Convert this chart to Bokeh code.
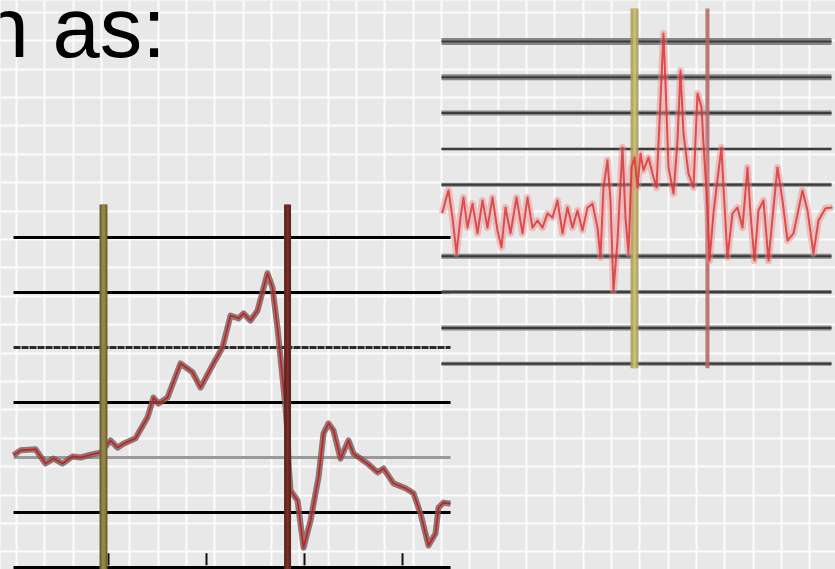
import numpy as np
from bokeh.plotting import figure
from bokeh.models import Range1d, FixedTicker, ColumnDataSource
from bokeh.core.properties import value
from bokeh.embed import file_html
from bokeh.resources import INLINE

# ---------------- data ----------------
caption = "n as:"

# Left trace: time (units) vs level
left_t = [-9.69, -8.98, -7.45, -6.43, -5.61, -4.69, -3.67, -2.86, -1.84, -0.82,
          0.20, 0.92, 1.53, 2.76, 3.98, 4.59, 5.10, 6.02, 7.35, 8.57,
          9.39, 10.71, 11.63, 12.45, 13.27, 13.78, 14.49, 15.20, 16.22, 16.73,
          17.24, 18.06, 18.27, 18.37, 18.57, 19.29, 19.90, 20.61, 21.43, 21.94,
          22.45, 22.96, 23.67, 24.49, 25.00, 26.43, 27.45, 28.06, 29.08, 30.31,
          31.12, 31.84, 32.65, 33.37, 33.67, 34.18, 34.90]
left_v = [0.04, 0.13, 0.15, -0.11, -0.02, -0.11, 0.02, 0.00, 0.05, 0.09,
          0.31, 0.18, 0.25, 0.35, 0.73, 1.09, 0.98, 1.09, 1.71, 1.55,
          1.27, 1.71, 2.00, 2.58, 2.53, 2.62, 2.49, 2.67, 3.35, 3.09,
          2.36, 0.91, 0.44, -0.11, -0.60, -0.78, -1.64, -1.15, -0.36, 0.44,
          0.62, 0.49, -0.02, 0.31, 0.07, -0.11, -0.27, -0.20, -0.47, -0.56,
          -0.65, -1.02, -1.60, -1.38, -0.91, -0.82, -0.84]
left_levels = [4, 3, 2, 1, 0, -1, -2]
left_markers = [-0.51, 18.27]
left_ticks = [0, 10, 20, 30]
left_span = [-9.69, 34.90]

# Right trace: sample vs level
right_u = [0.18, 1.03, 1.79, 2.82, 3.85, 4.87, 5.64, 6.67, 7.95, 9.23,
           10.51, 11.79, 13.08, 14.36, 15.38, 16.41, 17.69, 19.23, 20.77, 22.05,
           23.33, 24.62, 25.90, 27.18, 28.46, 29.74, 31.03, 32.31, 33.59, 34.87,
           36.15, 37.44, 38.72, 40.00, 40.77, 41.54, 42.56, 43.33, 44.10, 45.13,
           46.41, 47.18, 47.95, 48.72, 49.49, 50.26, 51.03, 51.79, 53.08, 54.10,
           55.13, 56.15, 56.92, 57.44, 58.21, 59.49, 60.51, 61.28, 62.05, 63.33,
           64.62, 65.64, 66.67, 67.18, 68.21, 68.72, 69.74, 70.51, 71.79, 72.31,
           73.33, 74.62, 75.90, 77.18, 78.46, 79.23, 80.26, 81.28, 82.56, 83.85,
           85.13, 86.15, 87.44, 88.72, 90.26, 92.56, 93.85, 95.38, 96.67, 98.46,
           100.26]
right_v = [0.20, 0.56, 0.84, 0.08, -0.92, 0.08, 0.64, -0.20, 0.47, -0.36,
           0.56, -0.20, 0.64, -0.28, -0.75, 0.36, -0.36, 0.64, -0.36, 0.64,
           -0.20, 0.00, -0.20, 0.20, 0.08, 0.56, -0.36, 0.36, -0.20, 0.28,
           -0.28, 0.36, 0.47, -0.20, -1.03, 0.92, 1.68, 0.56, -1.96, -0.56,
           2.04, 0.08, -0.92, 1.48, 1.76, 0.92, 1.87, 1.40, 1.76, 1.31,
           0.92, 3.35, 5.22, 3.83, 1.48, 0.75, 2.23, 4.19, 2.43, 1.31,
           0.92, 3.55, 3.16, 2.15, 0.36, -1.12, 0.20, 0.92, 2.04, 0.92,
           -1.03, 0.20, 0.36, -0.20, 1.48, 0.20, -1.12, 0.28, 0.56, -1.12,
           0.36, 1.48, 0.56, -0.56, -0.36, 0.84, 0.28, -0.92, 0.00, 0.34,
           0.36]
right_levels = [5, 4, 3, 2, 1, -1, -2, -3, -4]
right_markers = [49.5, 68.2]
right_span = [0, 100]

# styles for the right chart's level lines
right_level_widths = [7, 6, 5, 3, 4, 5, 4, 5, 4]

# ---------------- figure ----------------
W, H = 835, 569
p = figure(width=W, height=H, output_backend="svg", toolbar_location=None,
           x_range=Range1d(0, W), y_range=Range1d(H, 0),
           min_border=0, outline_line_color=None)
p.background_fill_color = "#e8e8e8"
p.border_fill_color = "#e8e8e8"
p.axis.visible = False

# squared paper background
p.xgrid.ticker = FixedTicker(ticks=list(np.arange(-12.3, W + 30, 28.33)))
p.ygrid.ticker = FixedTicker(ticks=list(np.arange(-16.7, H + 30, 28.4)))
for g in (p.xgrid, p.ygrid):
    g.grid_line_color = "#ffffff"
    g.grid_line_width = 2
    g.grid_line_alpha = 0.85

# chart-specific ranges sharing the same canvas
p.extra_x_ranges = {"lt": Range1d(-11.02, 74.18), "rt": Range1d(-113.08, 101.03)}
p.extra_y_ranges = {"lv": Range1d(-2.036, 8.309), "rv": Range1d(-9.749, 6.145)}

# heading text
p.text(x=[-19], y=[27], text=[caption], text_font=value("Liberation Sans"),
       text_font_size="85px", text_color="#000000", text_baseline="alphabetic")

# ---------------- left chart ----------------
L = dict(x_range_name="lt", y_range_name="lv")
for lv in left_levels:
    color, dash = "#000000", "solid"
    if lv == 0:
        color = "#9a9a9a"
    if lv == 2:
        color, dash = "#2a2a2a", "7 1"
    p.segment(x0=[left_span[0]], x1=[left_span[1]], y0=[lv], y1=[lv],
              line_color=color, line_width=3, line_dash=dash, **L)

for tk in left_ticks:
    p.segment(x0=[tk], x1=[tk], y0=[-1.74], y1=[-1.96],
              line_color="#111111", line_width=2, **L)

lsrc = ColumnDataSource(dict(t=left_t, v=left_v))
p.line("t", "v", source=lsrc, line_color="#7a5656", line_width=6,
       line_alpha=0.8, line_join="round", **L)
p.line("t", "v", source=lsrc, line_color="#c42020", line_width=1.6,
       line_join="round", **L)

p.segment(x0=[left_markers[0]], x1=[left_markers[0]], y0=[-2.04], y1=[4.6],
          line_color="#6e6236", line_width=8, **L)
p.segment(x0=[left_markers[0]], x1=[left_markers[0]], y0=[-2.04], y1=[4.6],
          line_color="#948544", line_width=4, **L)
p.segment(x0=[left_markers[1]], x1=[left_markers[1]], y0=[-2.04], y1=[4.6],
          line_color="#5a2820", line_width=7, **L)
p.segment(x0=[left_markers[1]], x1=[left_markers[1]], y0=[-2.04], y1=[4.6],
          line_color="#8a2a22", line_width=2, **L)

# ---------------- right chart ----------------
R = dict(x_range_name="rt", y_range_name="rv")
for lv, lw in zip(right_levels, right_level_widths):
    p.segment(x0=[right_span[0]], x1=[right_span[1]], y0=[lv], y1=[lv],
              line_color="#7a7a7a", line_width=lw, line_alpha=0.9, **R)
    p.segment(x0=[right_span[0]], x1=[right_span[1]], y0=[lv], y1=[lv],
              line_color="#3c3c3c", line_width=2, **R)

p.segment(x0=[right_markers[0]], x1=[right_markers[0]], y0=[-4.13], y1=[5.92],
          line_color="#b0a058", line_width=8, line_alpha=0.9, **R)
p.segment(x0=[right_markers[0]], x1=[right_markers[0]], y0=[-4.13], y1=[5.92],
          line_color="#c8c07a", line_width=3, line_alpha=0.9, **R)
p.segment(x0=[right_markers[1]], x1=[right_markers[1]], y0=[-4.13], y1=[5.92],
          line_color="#b46464", line_width=4, line_alpha=0.85, **R)

rsrc = ColumnDataSource(dict(u=right_u, v=right_v))
p.line("u", "v", source=rsrc, line_color="#ec8a8a", line_width=7,
       line_alpha=0.45, line_join="round", **R)
p.line("u", "v", source=rsrc, line_color="#d83030", line_width=2,
       line_alpha=0.8, line_join="round", **R)

open("out.html", "w").write(file_html(p, INLINE))
